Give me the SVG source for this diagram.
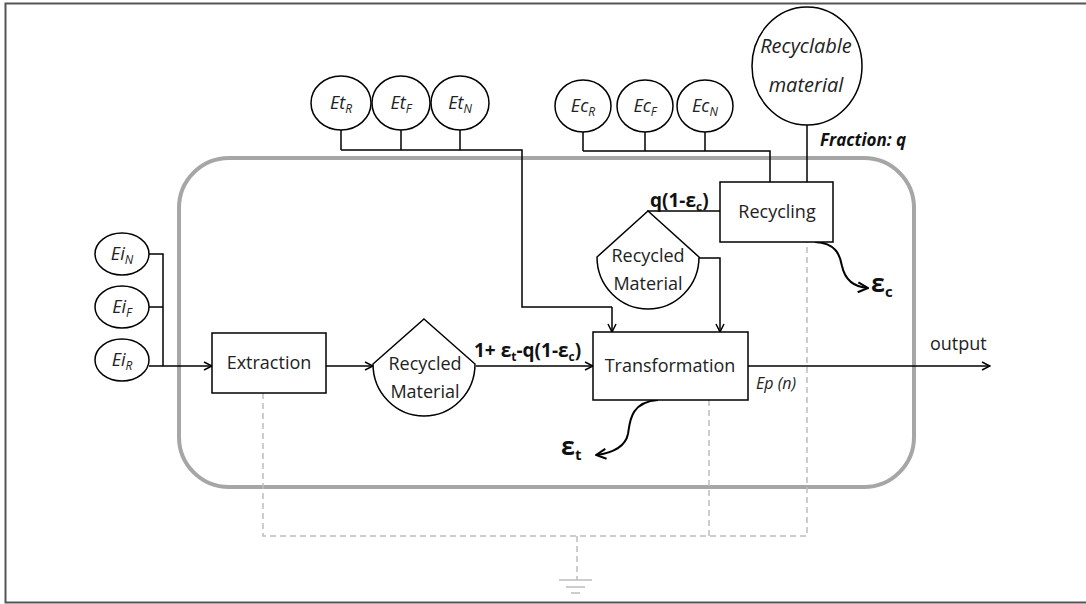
<svg xmlns="http://www.w3.org/2000/svg" width="1086" height="604" viewBox="0 0 1086 604">
<style>
.ln{fill:none;stroke:#000;stroke-width:1.5}
.nd{fill:#fff;stroke:#000;stroke-width:1.5}
.ds{fill:none;stroke:#bdbdbd;stroke-width:1.5;stroke-dasharray:6 4}
.t{font-family:"Open Sans","Liberation Sans",sans-serif;font-size:18px;fill:#222}
.it{font-family:"Open Sans","Liberation Sans",sans-serif;font-size:18px;font-style:italic;fill:#222}
.b{font-family:"Open Sans","Liberation Sans",sans-serif;font-size:19px;font-weight:bold;fill:#111}
.sub{font-size:12px}
</style>
<defs>
<marker id="arr" viewBox="0 0 10 10" refX="9" refY="5" markerWidth="10" markerHeight="10" markerUnits="userSpaceOnUse" orient="auto">
<path d="M1,1 L9,5 L1,9" fill="none" stroke="#000" stroke-width="1.5"/>
</marker>
<marker id="arr2" viewBox="0 0 12 12" refX="11" refY="6" markerWidth="12" markerHeight="12" markerUnits="userSpaceOnUse" orient="auto">
<path d="M1,1 L11,6 L1,11" fill="none" stroke="#000" stroke-width="2"/>
</marker>
</defs>
<rect width="1086" height="604" fill="#fff"/>
<path d="M1090,3.5 H5.5 V602.5 H1090" fill="none" stroke="#555" stroke-width="2"/>
<g id="system">
<rect x="179" y="158" width="735" height="329" rx="50" ry="50" fill="none" stroke="#a6a6a6" stroke-width="4"/>
</g>
<g id="connectors">
<path class="ln" d="M341,130 V150 M401,130 V150 M460,130 V150 M341,150 H522 V307 H612"/>
<path class="ln" d="M612,307 V332" marker-end="url(#arr)"/>
<path class="ln" d="M583,132 V151 M645,132 V151 M705,132 V151 M583,151 H770 V182"/>
<path class="ln" d="M807,125 V182"/>
<path class="ln" d="M720,211 H647"/>
<path class="ln" d="M699,258 H720 V332" marker-end="url(#arr)"/>
<path class="ln" d="M149,254 H163 V366 M149,307 H163"/>
<path class="ln" d="M149,366 H212" marker-end="url(#arr)"/>
<path class="ln" d="M326,366 H373" marker-end="url(#arr)"/>
<path class="ln" d="M476,366 H593" marker-end="url(#arr)"/>
<path class="ln" d="M748,366 H990" marker-end="url(#arr)"/>
<path class="ln" style="stroke-width:2" d="M658,400 C630,402 630,422 628,434 C625,448 612,453 596,455" marker-end="url(#arr2)"/>
<path class="ln" style="stroke-width:2" d="M815,242 C836,243 840,255 842,266 C845,280 854,287 868,288" marker-end="url(#arr2)"/>
<path class="ds" d="M263,393 V536 H807 V242 M709,400 V536 M577,536 V580"/>
<path d="M559,580 H592 M566,587 H585 M571,593 H580" fill="none" stroke="#bdbdbd" stroke-width="1.5"/>
</g>
<g id="EtR"><ellipse class="nd" cx="341" cy="103" rx="30" ry="27"/><text class="it" x="341" y="109" text-anchor="middle">Et<tspan class="sub" dy="4">R</tspan></text></g>
<g id="EtF"><ellipse class="nd" cx="401" cy="103" rx="29" ry="27"/><text class="it" x="401" y="109" text-anchor="middle">Et<tspan class="sub" dy="4">F</tspan></text></g>
<g id="EtN"><ellipse class="nd" cx="460" cy="103" rx="29" ry="27"/><text class="it" x="460" y="109" text-anchor="middle">Et<tspan class="sub" dy="4">N</tspan></text></g>
<g id="EcR"><ellipse class="nd" cx="583" cy="106" rx="28" ry="26"/><text class="it" x="583" y="112" text-anchor="middle">Ec<tspan class="sub" dy="4">R</tspan></text></g>
<g id="EcF"><ellipse class="nd" cx="645" cy="106" rx="28" ry="26"/><text class="it" x="645" y="112" text-anchor="middle">Ec<tspan class="sub" dy="4">F</tspan></text></g>
<g id="EcN"><ellipse class="nd" cx="705" cy="106" rx="28" ry="26"/><text class="it" x="705" y="112" text-anchor="middle">Ec<tspan class="sub" dy="4">N</tspan></text></g>
<g id="EiN"><ellipse class="nd" cx="122" cy="254" rx="27" ry="21"/><text class="it" x="122" y="260" text-anchor="middle">Ei<tspan class="sub" dy="4">N</tspan></text></g>
<g id="EiF"><ellipse class="nd" cx="122" cy="307" rx="27" ry="21"/><text class="it" x="122" y="313" text-anchor="middle">Ei<tspan class="sub" dy="4">F</tspan></text></g>
<g id="EiR"><ellipse class="nd" cx="122" cy="360" rx="27" ry="21"/><text class="it" x="122" y="366" text-anchor="middle">Ei<tspan class="sub" dy="4">R</tspan></text></g>
<g id="recyclable"><ellipse class="nd" cx="807" cy="66" rx="55" ry="59"/>
<text class="it" x="806" y="53" text-anchor="middle" style="font-size:20px">Recyclable</text>
<text class="it" x="806" y="92" text-anchor="middle" style="font-size:20px">material</text></g>
<g id="recycling"><rect class="nd" x="720" y="182" width="113" height="60"/><text class="t" x="777" y="218" text-anchor="middle">Recycling</text></g>
<g id="recycledUpper"><path class="nd" d="M648,211 L699,257 A51,52 0 1 1 597,257 Z"/>
<text class="t" x="648" y="262" text-anchor="middle">Recycled</text>
<text class="t" x="648" y="290" text-anchor="middle">Material</text></g>
<g id="extraction"><rect class="nd" x="212" y="333" width="114" height="60"/><text class="t" x="269" y="369" text-anchor="middle">Extraction</text></g>
<g id="recycledLower"><path class="nd" d="M424,319 L475,364 A51,52 0 1 1 373,364 Z"/>
<text class="t" x="425" y="370" text-anchor="middle">Recycled</text>
<text class="t" x="425" y="398" text-anchor="middle">Material</text></g>
<g id="transformation"><rect class="nd" x="593" y="332" width="155" height="68"/><text class="t" x="670" y="372" text-anchor="middle">Transformation</text></g>
<g id="labels">
<text class="b" x="820" y="146" style="font-style:italic;font-size:17px">Fraction: q</text>
<text class="b" x="650" y="207">q(1-ε<tspan class="sub" dy="4">c</tspan><tspan dy="-4">)</tspan></text>
<text class="b" x="474" y="357">1+ ε<tspan class="sub" dy="4">t</tspan><tspan dy="-4">-q(1-ε</tspan><tspan class="sub" dy="4">c</tspan><tspan dy="-4">)</tspan></text>
<text class="b" x="561" y="455" style="font-size:25px">ε<tspan dy="5" style="font-size:15px">t</tspan></text>
<text class="b" x="871" y="292" style="font-size:25px">ε<tspan dy="5" style="font-size:15px">c</tspan></text>
<text class="t" x="930" y="350">output</text>
<text class="it" x="756" y="389" style="font-size:16px">Ep (n)</text>
</g>
</svg>
